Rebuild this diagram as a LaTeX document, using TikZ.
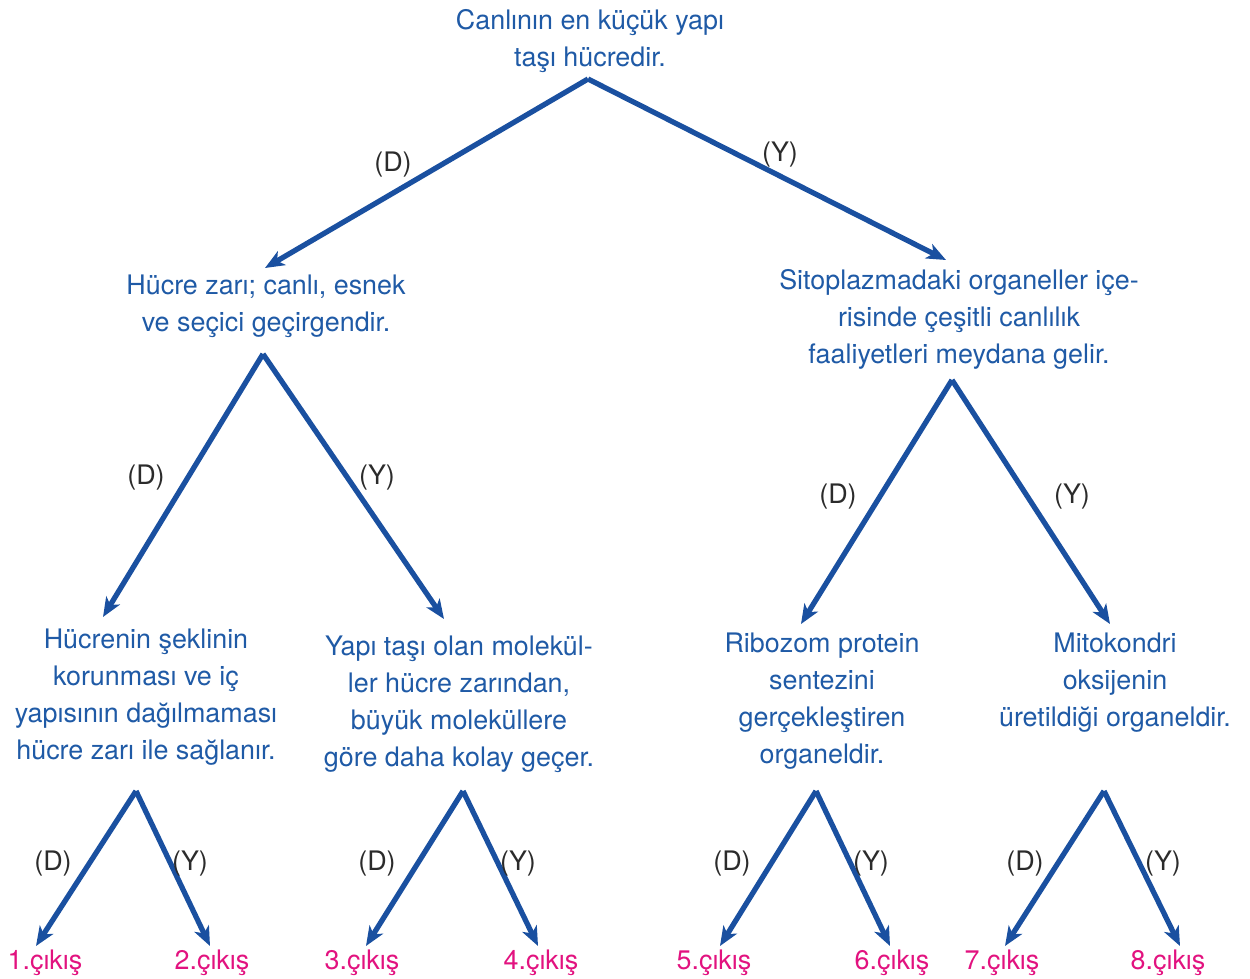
\documentclass[tikz,border=0pt]{standalone}
\usepackage{fontspec}
\setmainfont{TeX Gyre Heros}
\usetikzlibrary{arrows.meta}
\definecolor{lineblue}{HTML}{1A50A0}
\definecolor{textblue}{HTML}{1F5AA6}
\definecolor{exitpink}{HTML}{E2127F}
\definecolor{lblgray}{HTML}{2B2B2B}
\tikzset{
  txt/.style={align=center, text=textblue, font=\fontsize{15.3}{21}\selectfont, inner sep=0pt},
  lbl/.style={text=lblgray, font=\fontsize{15.3}{18}\selectfont, inner sep=0pt},
  exitlbl/.style={text=exitpink, font=\fontsize{15.3}{18}\selectfont, inner sep=0pt},
  arr/.style={draw=lineblue, line width=3pt, -{Stealth[length=11pt, width=9pt, inset=3pt]}}
}
\begin{document}
\begin{tikzpicture}[x=0.02cm, y=-0.02cm]
\useasboundingbox (0,0) rectangle (1250,979);
% level 1
\node[txt] (root) at (590,41) {Canlının en küçük yapı\\taşı hücredir.};
\coordinate (rootA) at (588,79);
% level 2
\node[txt] (L) at (266,306) {Hücre zarı; canlı, esnek\\ve seçici geçirgendir.};
\coordinate (Ltip) at (265,268);
\coordinate (LA) at (263,354);
\node[txt] (R) at (959,319) {Sitoplazmadaki organeller içe-\\risinde çeşitli canlılık\\faaliyetleri meydana gelir.};
\coordinate (Rtip) at (946,260);
\coordinate (RA) at (952,380);
% level 3
\node[txt] (A) at (146,697) {Hücrenin şeklinin\\korunması ve iç\\yapısının dağılmaması\\hücre zarı ile sağlanır.};
\coordinate (Atip) at (103,617);
\coordinate (AA) at (136,791);
\node[txt] (B) at (459,704) {Yapı taşı olan molekül-\\ler hücre zarından,\\büyük moleküllere\\göre daha kolay geçer.};
\coordinate (Btip) at (444,619);
\coordinate (BA) at (463,791);
\node[txt] (C) at (822,701) {Ribozom protein\\sentezini\\gerçekleştiren\\organeldir.};
\coordinate (Ctip) at (801,624);
\coordinate (CA) at (816,791);
\node[txt] (D) at (1115,683) {Mitokondri\\oksijenin\\üretildiği organeldir.};
\coordinate (Dtip) at (1110,624);
\coordinate (DA) at (1104,791);
% exits
\node[exitlbl] (e1) at (45,963) {1.çıkış};
\node[exitlbl] (e2) at (212,963) {2.çıkış};
\node[exitlbl] (e3) at (362,963) {3.çıkış};
\node[exitlbl] (e4) at (541,963) {4.çıkış};
\node[exitlbl] (e5) at (714,963) {5.çıkış};
\node[exitlbl] (e6) at (892,963) {6.çıkış};
\node[exitlbl] (e7) at (1002,963) {7.çıkış};
\node[exitlbl] (e8) at (1168,963) {8.çıkış};
\coordinate (t1) at (36,946);
\coordinate (t2) at (210,946);
\coordinate (t3) at (366,946);
\coordinate (t4) at (538,946);
\coordinate (t5) at (720,946);
\coordinate (t6) at (890,946);
\coordinate (t7) at (1005,946);
\coordinate (t8) at (1180,946);
% arrows
\draw[arr] (rootA) -- (Ltip);
\draw[arr] (rootA) -- (Rtip);
\draw[arr] (LA) -- (Atip);
\draw[arr] (LA) -- (Btip);
\draw[arr] (RA) -- (Ctip);
\draw[arr] (RA) -- (Dtip);
\draw[arr] (AA) -- (t1);
\draw[arr] (AA) -- (t2);
\draw[arr] (BA) -- (t3);
\draw[arr] (BA) -- (t4);
\draw[arr] (CA) -- (t5);
\draw[arr] (CA) -- (t6);
\draw[arr] (DA) -- (t7);
\draw[arr] (DA) -- (t8);
% labels
\node[lbl] (d0) at (393,165) {(D)};
\node[lbl] (y0) at (780,155) {(Y)};
\node[lbl] (d1) at (146,478) {(D)};
\node[lbl] (y1) at (377,478) {(Y)};
\node[lbl] (d2) at (838,497) {(D)};
\node[lbl] (y2) at (1072,497) {(Y)};
\node[lbl] (d3) at (53,864) {(D)};
\node[lbl] (y3) at (190,864) {(Y)};
\node[lbl] (d4) at (377,864) {(D)};
\node[lbl] (y4) at (518,864) {(Y)};
\node[lbl] (d5) at (732,864) {(D)};
\node[lbl] (y5) at (871,864) {(Y)};
\node[lbl] (d6) at (1025,864) {(D)};
\node[lbl] (y6) at (1163,864) {(Y)};
\end{tikzpicture}
\end{document}
